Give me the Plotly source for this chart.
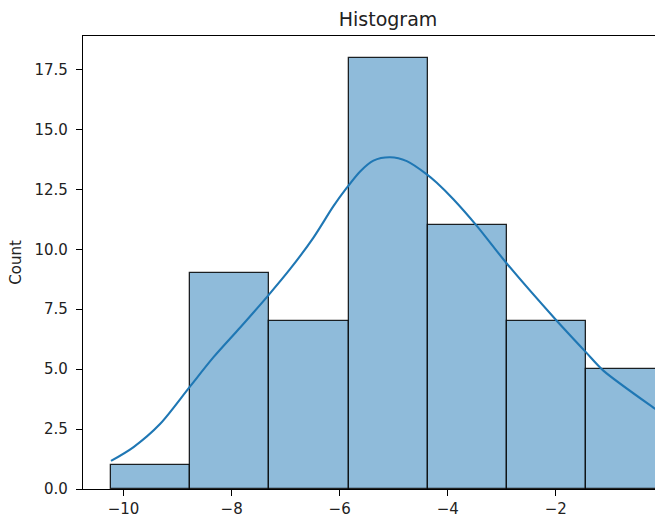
import plotly.graph_objects as go

# Histogram data
bin_edges = [-10.233, -8.767, -7.301, -5.835, -4.369, -2.903, -1.437, 0.029]
counts = [1, 9, 7, 18, 11, 7, 5]

# KDE curve points (in count units)
kde_x = [-10.233, -9.815, -9.321, -8.779, -8.335, -7.841, -7.328, -6.916, -6.485,
         -6.115, -5.867, -5.621, -5.375, -5.066, -4.757, -4.387, -4.202, -3.895,
         -3.462, -2.907, -1.982, -1.439, -1.119, -0.163, 0.029]
kde_y = [1.17, 1.75, 2.72, 4.25, 5.50, 6.74, 8.06, 9.18, 10.49,
         11.80, 12.57, 13.25, 13.70, 13.84, 13.68, 13.13, 12.78, 12.09,
         10.98, 9.41, 7.02, 5.70, 4.94, 3.35, 3.05]

y_ticks = [0, 2.5, 5, 7.5, 10, 12.5, 15, 17.5]
x_ticks = [-10, -8, -6, -4, -2]

centers = [(a + b) / 2 for a, b in zip(bin_edges[:-1], bin_edges[1:])]
widths = [b - a for a, b in zip(bin_edges[:-1], bin_edges[1:])]

font = "DejaVu Sans, sans-serif"

fig = go.Figure()
fig.add_trace(go.Bar(
    x=centers, y=counts, width=widths,
    marker=dict(color="rgb(143,187,218)",
                line=dict(color="rgba(0,0,0,0.85)", width=1.3)),
    showlegend=False, hoverinfo="skip",
))
fig.add_trace(go.Scatter(
    x=kde_x, y=kde_y, mode="lines",
    line=dict(color="#1f77b4", width=2.1, shape="spline", smoothing=0.8),
    showlegend=False, hoverinfo="skip",
))

W, H = 655, 521
fig.update_layout(
    width=W, height=H,
    margin=dict(l=83, r=0, t=36, b=32, pad=0),
    paper_bgcolor="white", plot_bgcolor="white",
    bargap=0,
    font=dict(family=font, size=15, color="#222222"),
    title=dict(text="Histogram", x=388 / W, xref="container", xanchor="center",
               y=1 - 19 / H, yref="container", yanchor="middle",
               font=dict(family=font, size=19, color="#222222")),
)
fig.update_xaxes(
    range=[-10.751, -0.163], tickmode="array", tickvals=x_ticks,
    showgrid=False, zeroline=False,
    showline=True, linecolor="black", linewidth=1.25, mirror=True,
    ticks="outside", ticklen=6, tickwidth=1.25, tickcolor="black",
    tickfont=dict(family=font, size=15, color="#222222"),
)
fig.update_yaxes(
    range=[0, 18.9], tickmode="array", tickvals=y_ticks, tickformat=".1f",
    showgrid=False, zeroline=False,
    showline=True, linecolor="black", linewidth=1.25, mirror=False,
    ticks="outside", ticklen=6, tickwidth=1.25, tickcolor="black",
    tickfont=dict(family=font, size=15, color="#222222"),
    ticklabelstandoff=5,
    title=dict(text="Count", font=dict(family=font, size=15, color="#222222"), standoff=9),
)

fig.write_html(
    "out.html",
    config={"displayModeBar": False},
    post_script="document.body.style.margin='0';document.body.style.overflow='hidden';",
)
